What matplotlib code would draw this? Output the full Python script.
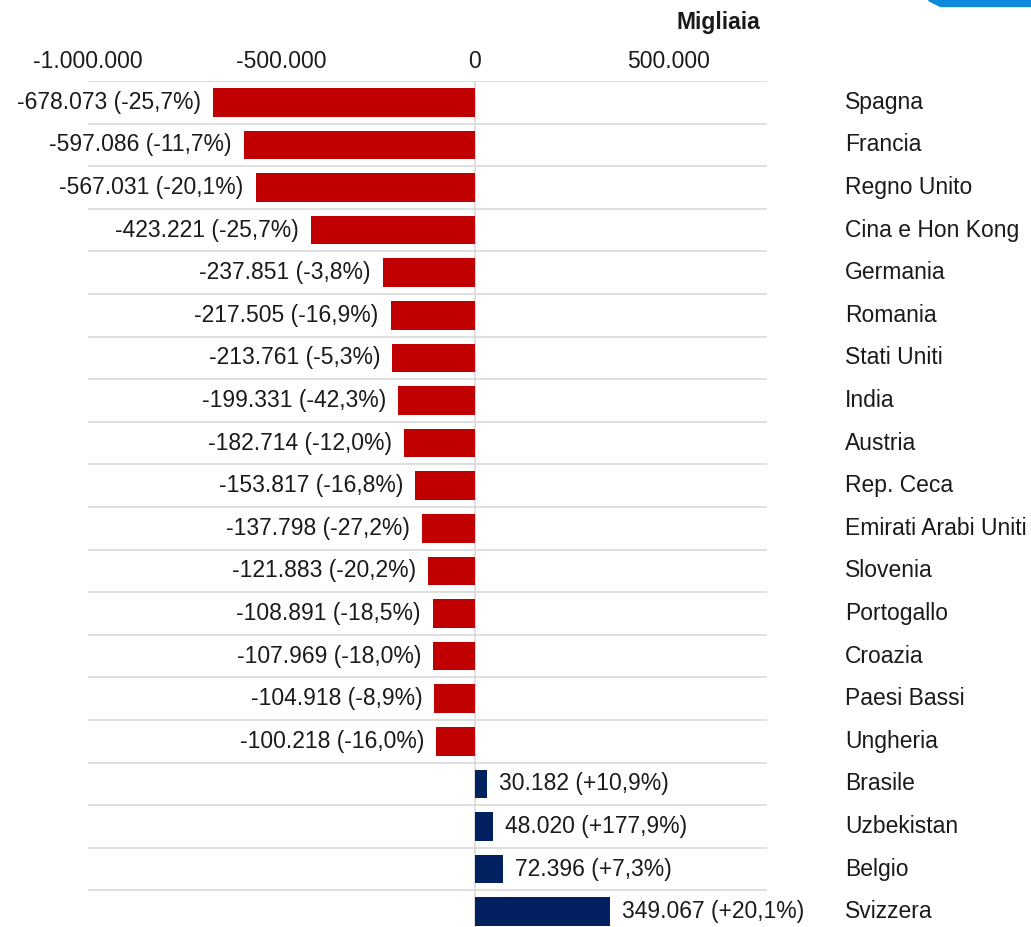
import matplotlib
matplotlib.use('Agg')
import matplotlib.pyplot as plt
from matplotlib.patches import Polygon
import numpy as np

plt.rcParams['font.family'] = ['Liberation Sans', 'DejaVu Sans']

countries = ['Spagna', 'Francia', 'Regno Unito', 'Cina e Hon Kong', 'Germania',
             'Romania', 'Stati Uniti', 'India', 'Austria', 'Rep. Ceca',
             'Emirati Arabi Uniti', 'Slovenia', 'Portogallo', 'Croazia',
             'Paesi Bassi', 'Ungheria', 'Brasile', 'Uzbekistan', 'Belgio', 'Svizzera']
values = [-678073, -597086, -567031, -423221, -237851, -217505, -213761, -199331,
          -182714, -153817, -137798, -121883, -108891, -107969, -104918, -100218,
          30182, 48020, 72396, 349067]
pct = [-25.7, -11.7, -20.1, -25.7, -3.8, -16.9, -5.3, -42.3, -12.0, -16.8,
       -27.2, -20.2, -18.5, -18.0, -8.9, -16.0, 10.9, 177.9, 7.3, 20.1]
ticks = [-1000000, -500000, 0, 500000]


def it_num(v):
    return f'{v:,}'.replace(',', '.')


def it_pct(p):
    return f'{p:+.1f}%'.replace('.', ',')


RED = '#C00000'
NAVY = '#002060'
GRID = '#D9D9D9'
TXT = '#1A1A1A'
FS = 16.5

fig = plt.figure(figsize=(10.31, 9.27), dpi=100)
W, H = 1031, 927
left, right, top, bottom = 88, 767, 81, 933
ax = fig.add_axes([left / W, (H - bottom) / H, (right - left) / W, (bottom - top) / H])

n = len(countries)
row_h = (bottom - top) / n
y = np.arange(n)
colors = [RED if v < 0 else NAVY for v in values]
ax.barh(y, values, height=0.67, color=colors, zorder=3)

ax.set_ylim(n - 0.5, -0.5)
ax.set_xlim(-1000000, 755000)

# row separators
for b in np.arange(-0.5, n - 0.5, 1.0):
    ax.axhline(b, color=GRID, lw=1.2, zorder=1)
ax.axvline(0, color=GRID, lw=1.2, zorder=2)

for s in ax.spines.values():
    s.set_visible(False)
ax.set_yticks([])
ax.xaxis.tick_top()
ax.set_xticks(ticks)
ax.set_xticklabels([it_num(t) for t in ticks], fontsize=FS, color=TXT)
ax.tick_params(axis='x', length=0, pad=6)

px = 1755000 / (right - left)  # data units per pixel
off = 12 * px
for yi, v, p in zip(y, values, pct):
    lab = f'{it_num(v)} ({it_pct(p)})'
    if v < 0:
        lab = lab.replace('(+', '(')
        ax.text(v - off, yi, lab, ha='right', va='center', fontsize=FS, color=TXT)
    else:
        ax.text(v + off, yi, lab, ha='left', va='center', fontsize=FS, color=TXT)

# country names right of the plot
for yi, c in zip(y, countries):
    ax.text(845 / W, 1 - (top + (yi + 0.5) * row_h) / H, c, transform=fig.transFigure,
            ha='left', va='center', fontsize=FS, color=TXT)

fig.text(760 / W, 1 - 22 / H, 'Migliaia', ha='right', va='center',
         fontsize=FS, fontweight='bold', color=TXT)

# small blue decoration in top right corner
fig.patches.append(Polygon([[928 / W, 1.0], [1.0, 1.0], [1.0, 1 - 6 / H], [940 / W, 1 - 6 / H]],
                           closed=True, transform=fig.transFigure, color='#0A8AD8'))

fig.savefig('out.png', dpi=100)
